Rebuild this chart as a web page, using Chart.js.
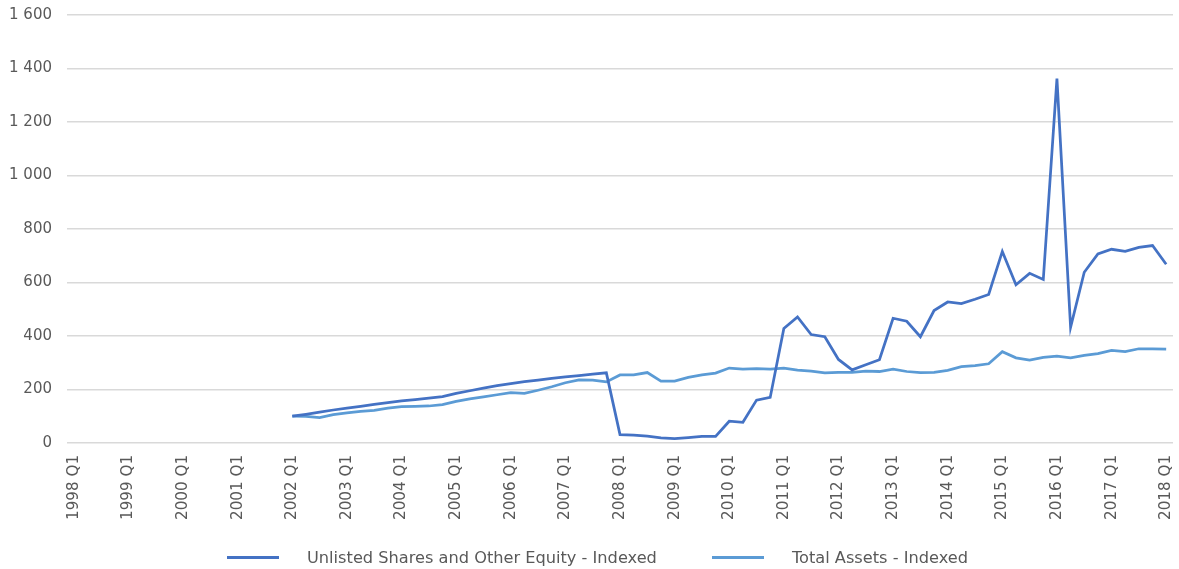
<!DOCTYPE html>
<html>
<head>
<meta charset="utf-8">
<script src="https://cdn.jsdelivr.net/npm/chart.js@4.4.1/dist/chart.umd.min.js"></script>
<style>
    html, body { margin: 0; padding: 0; background: #ffffff; }
    #wrap { position: relative; width: 1179px; height: 569px; }
    #legend {
        position: absolute; left: 227px; top: 545px; height: 24px;
        display: flex; align-items: center; white-space: nowrap;
        font-family: 'DejaVu Sans', sans-serif; font-size: 16.2px; color: #595959;
    }
    .lg-item { display: flex; align-items: center; margin-right: 55px; }
    .lg-line { width: 52px; height: 3px; margin-right: 28px; }
</style>
</head>
<body>
<div id="wrap">
    <canvas id="chart" width="1179" height="569"></canvas>
    <div id="legend"></div>
</div>
<script>
// Quarterly categories 1998 Q1 .. 2018 Q1
const quarters = [];
for (let y = 1998; y <= 2018; y++) {
    for (let q = 1; q <= 4; q++) {
        if (y === 2018 && q > 1) break;
        quarters.push(y + ' Q' + q);
    }
}

const seriesNames = ['Unlisted Shares and Other Equity - Indexed', 'Total Assets - Indexed'];
const yTicks = [0, 200, 400, 600, 800, 1000, 1200, 1400, 1600];

// no data before 2002 Q1 (16 quarters)
const gap = new Array(16).fill(null);

const unlistedShares = gap.concat([
    100, 107, 115, 123, 130, 137, 144, 151, 157, 162, 167, 173,
    185, 195, 205, 214, 222, 229, 235, 241, 247, 252, 257, 262,
    31, 29, 25, 19, 16, 20, 24, 24, 81, 77, 160, 170,
    428, 471, 405, 397, 312, 273, 292, 311, 466, 455, 397, 495,
    527, 521, 537, 555, 716, 591, 634, 611, 1362, 432, 638, 707,
    724, 716, 731, 738, 668
]);

const totalAssets = gap.concat([
    100, 99, 95, 106, 112, 118, 122, 130, 136, 137, 138, 143,
    155, 165, 172, 180, 188, 185, 197, 210, 225, 236, 235, 228,
    254, 254, 263, 231, 231, 245, 254, 261, 280, 276, 278, 276,
    280, 272, 268, 262, 264, 264, 268, 267, 276, 267, 263, 264,
    271, 285, 289, 296, 341, 318, 310, 320, 324, 318, 327, 334,
    346, 341, 352, 352, 351
]);

const colors = ['#4472c4', '#5b9bd5'];
const textColor = '#595959';
const fontFamily = "'DejaVu Sans', sans-serif";

function fmtThousands(v) {
    return String(v).replace(/\B(?=(\d{3})+(?!\d))/g, ' ');
}

const ctx = document.getElementById('chart').getContext('2d');
const chart = new Chart(ctx, {
    type: 'line',
    data: {
        labels: quarters,
        datasets: [
            {
                label: seriesNames[0],
                data: unlistedShares,
                borderColor: colors[0],
                backgroundColor: colors[0],
                borderWidth: 2.75,
                pointRadius: 0,
                tension: 0
            },
            {
                label: seriesNames[1],
                data: totalAssets,
                borderColor: colors[1],
                backgroundColor: colors[1],
                borderWidth: 2.75,
                pointRadius: 0,
                tension: 0
            }
        ]
    },
    options: {
        responsive: false,
        animation: false,
        layout: { padding: { top: 15, right: 6, bottom: 37, left: 0 } },
        plugins: {
            legend: { display: false },
            tooltip: { enabled: false }
        },
        scales: {
            x: {
                offset: true,
                grid: { display: false, drawTicks: false },
                border: { display: false },
                afterFit: function (axis) {
                    axis.paddingLeft = 0;
                    axis.paddingRight = 0;
                },
                ticks: {
                    autoSkip: false,
                    maxRotation: 90,
                    minRotation: 90,
                    padding: 12,
                    color: textColor,
                    font: { family: fontFamily, size: 15.2 },
                    callback: function (value) {
                        const lbl = this.getLabelForValue(value);
                        return lbl.endsWith('Q1') ? lbl : null;
                    }
                }
            },
            y: {
                min: yTicks[0],
                max: yTicks[yTicks.length - 1],
                afterBuildTicks: function (axis) {
                    axis.ticks = yTicks.map(v => ({ value: v }));
                },
                afterFit: function (axis) {
                    axis.width = 67;
                    axis.paddingTop = 0;
                    axis.paddingBottom = 0;
                },
                grid: { color: '#d9d9d9', lineWidth: 1.5, drawTicks: false },
                border: { display: false },
                ticks: {
                    padding: 15,
                    color: textColor,
                    font: { family: fontFamily, size: 15 },
                    callback: function (value) {
                        return fmtThousands(value);
                    }
                }
            }
        }
    }
});

// legend built from the dataset list
const legendEl = document.getElementById('legend');
chart.data.datasets.forEach(ds => {
    const item = document.createElement('div');
    item.className = 'lg-item';
    item.innerHTML = `<span class="lg-line" style="background:${ds.borderColor}"></span><span>${ds.label}</span>`;
    legendEl.appendChild(item);
});
</script>
</body>
</html>
